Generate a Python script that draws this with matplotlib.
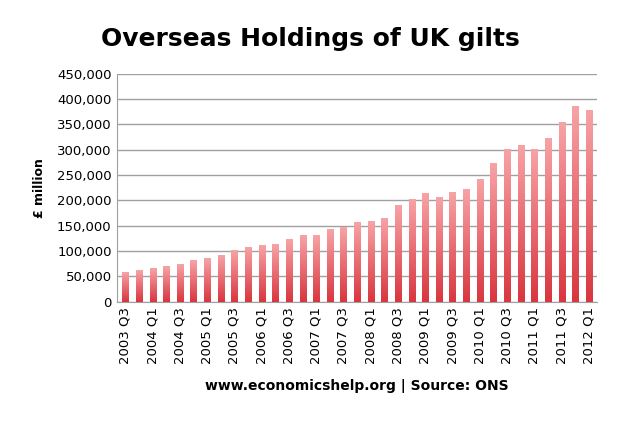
import matplotlib
matplotlib.use("Agg")
import matplotlib.pyplot as plt
import numpy as np
from matplotlib.colors import LinearSegmentedColormap

quarters = []
for y in range(2003, 2013):
    for q in range(1, 5):
        if (y == 2003 and q < 3) or (y == 2012 and q > 1):
            continue
        quarters.append(f"{y} Q{q}")
values = [58, 63, 66, 70, 75, 81, 85, 91, 102, 107, 112, 113, 123, 132, 131,
          143, 148, 157, 159, 165, 190, 203, 215, 207, 216, 223, 242, 273,
          302, 309, 301, 323, 354, 387, 379]
values = [v * 1000 for v in values]
yticks = list(range(0, 450001, 50000))

fig = plt.figure(figsize=(6.2, 4.22), dpi=100)
ax = fig.add_axes([0.189, 0.285, 0.774, 0.54])
x = np.arange(len(values))
bars = ax.bar(x, values, width=0.45, color="#e0505a", zorder=2)
cmap = LinearSegmentedColormap.from_list("g", ["#d9363f", "#f7a3a6"])
grad = np.linspace(0, 1, 100).reshape(-1, 1)
for b in bars:
    x0, w, h = b.get_x(), b.get_width(), b.get_height()
    ax.imshow(grad, cmap=cmap, origin="lower", aspect="auto",
              extent=[x0, x0 + w, 0, h], zorder=3)
    b.set_visible(False)
ax.set_xlim(-0.6, len(values) - 0.4)
ax.set_ylim(0, 450000)
ax.set_yticks(yticks)
ax.set_yticklabels([f"{t:,}" for t in yticks], fontsize=9.5)
ax.set_xticks(x[::2])
ax.set_xticklabels(quarters[::2], rotation=90, fontsize=9.5)
ax.grid(axis="y", color="#a0a0a0", linewidth=1, zorder=1)
for s in ["top", "right"]:
    ax.spines[s].set_visible(False)
ax.spines["left"].set_color("#a0a0a0")
ax.spines["bottom"].set_color("#a0a0a0")
ax.tick_params(axis="both", length=0, pad=4)
ax.set_ylabel("£ million", fontsize=9, fontweight="bold", labelpad=8)
fig.text(0.5, 0.89, "Overseas Holdings of UK gilts", ha="center", fontsize=18, fontweight="bold")
fig.text(0.575, 0.075, "www.economicshelp.org | Source: ONS", ha="center", fontsize=10, fontweight="bold")
fig.savefig("out.png", dpi=100)
